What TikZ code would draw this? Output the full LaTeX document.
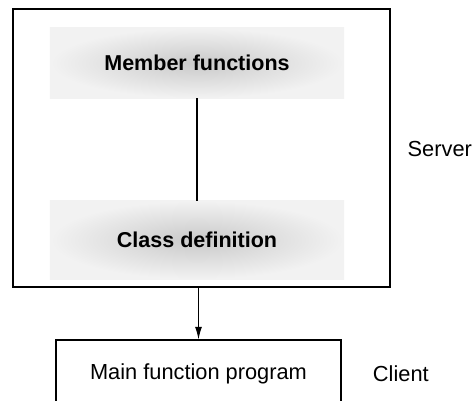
\documentclass[tikz,border=0pt]{standalone}
\usepackage{fontspec}
\setmainfont{Liberation Sans}
\usepackage{tikz}
\usetikzlibrary{calc,positioning,arrows.meta,shapes}

\tikzset{
	stipple/.style={shading=radial, inner color=gray!42, outer color=gray!10, minimum width=7.35cm, font=\bfseries\fontsize{15.3}{18}\selectfont},
	plainbox/.style={draw, line width=0.8pt, rectangle},
	label/.style={anchor=west, font=\fontsize{15.5}{18}\selectfont}
}

\begin{document}
\begin{tikzpicture}[x=0.025cm, y=-0.025cm]
		\useasboundingbox (0,0) rectangle (476,401);
		\clip (0,0) rectangle (476,401);

		\node[plainbox, minimum width=9.425cm, minimum height=6.95cm] (server) at (201.5,148) {};
		\node[stipple, minimum height=1.75cm] (members) at (197,63) {Member functions};
		\node[stipple, minimum height=1.95cm] (classdef) at (197,240) {Class definition};
		\node[plainbox, minimum width=7.125cm, minimum height=1.7cm, font=\fontsize{15.5}{18}\selectfont] (mainprog) at (198.5,374) {Main function program};

		\node[label, inner sep=1pt] (serverlbl) at (406,149) {Server};
		\node[label] (clientlbl) at (368,374) {Client};

		\draw[line width=0.8pt] (members.south) -- (classdef.north);
		\draw[line width=0.8pt, -{Latex[length=9pt,width=5pt]}] (server.south -| mainprog.north) -- (mainprog.north);
	\end{tikzpicture}
\end{document}
